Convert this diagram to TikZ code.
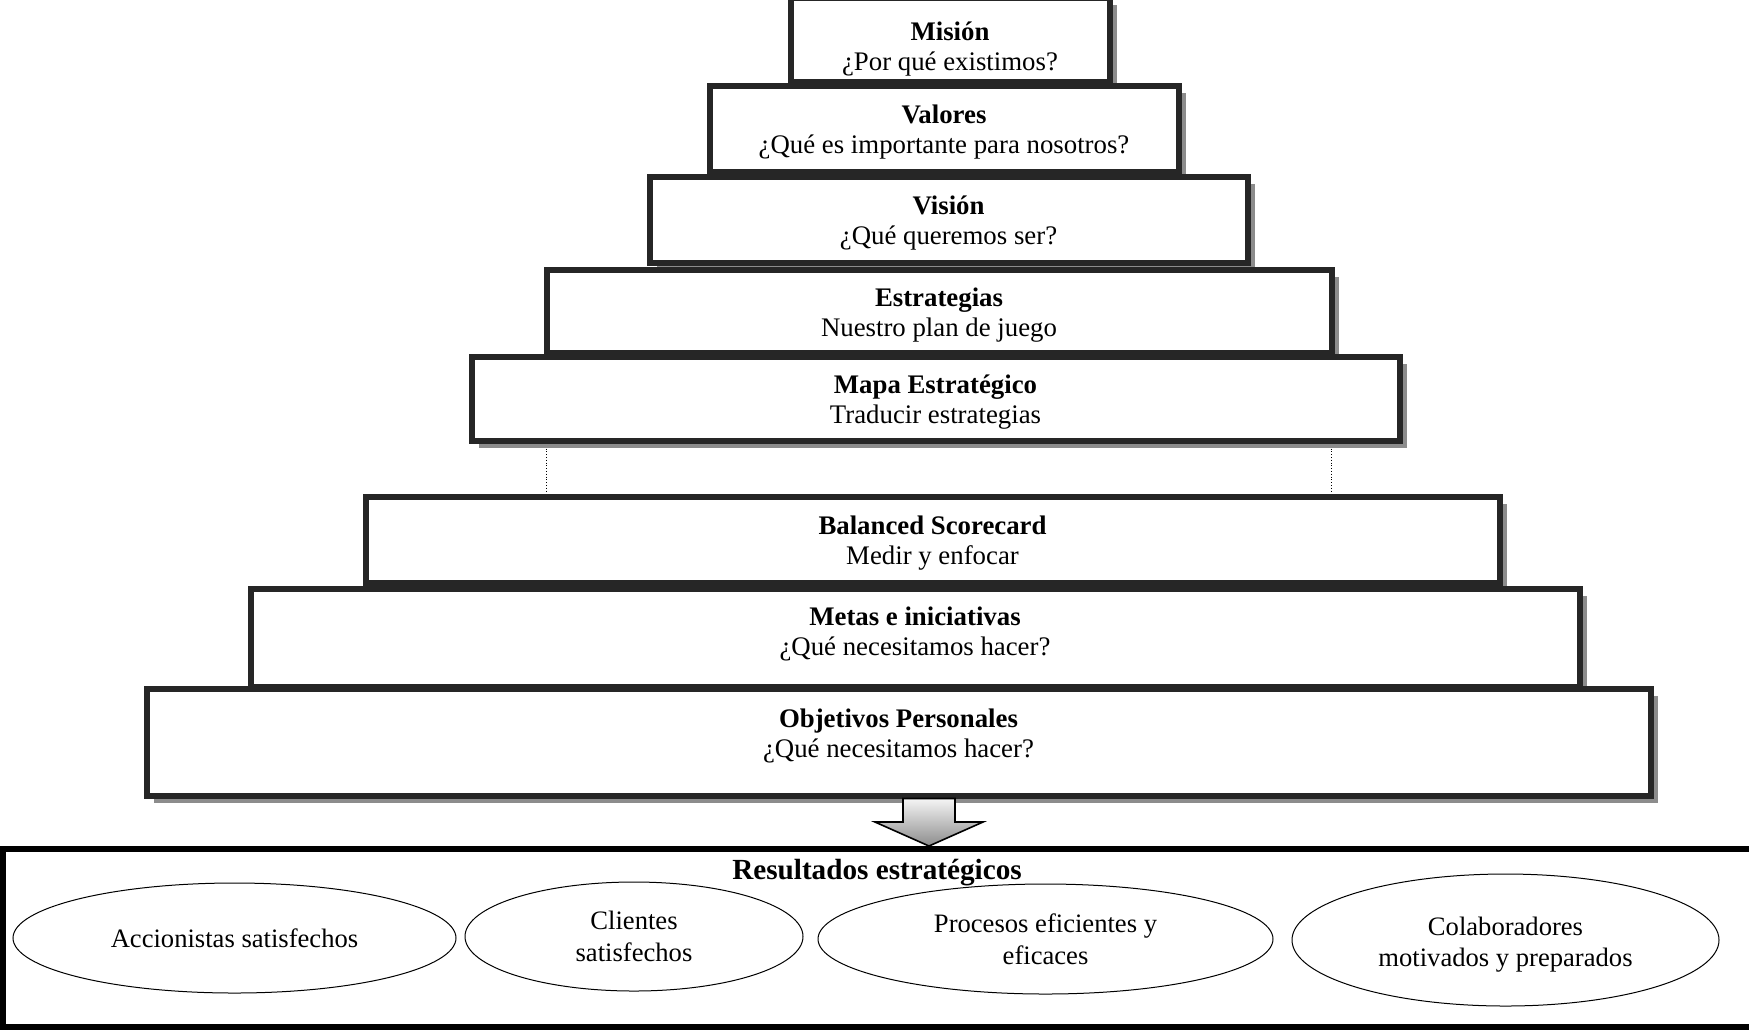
\documentclass[tikz,border=0pt]{standalone}
\usepackage{fontspec}
\setmainfont{Liberation Serif}
\usetikzlibrary{
		calc,
		positioning,
		shapes.geometric,
		shadows
	}
\tikzset{
		>=stealth,
		stepbox/.style={draw=black!85, line width=3pt, fill=white, inner sep=0pt, outer sep=0pt, align=center,
			text height=28pt, text depth=2.6pt, font=\fontsize{13.4}{15}\selectfont,
			drop shadow={shadow xshift=3.5pt, shadow yshift=-3.5pt, fill=black!45, opacity=1}},
		goal/.style={ellipse, draw, line width=0.5pt, inner sep=0pt, align=center, font=\fontsize{13.3}{15.8}\selectfont},
		blockarrow/.style={draw, line width=0.8pt, line join=miter, top color=black!4, bottom color=black!45}
	}

\begin{document}
\begin{tikzpicture}[x=0.5pt, y=-0.5pt]
		\useasboundingbox (0,0) rectangle (1749,1030);
		% piramide
		\node[stepbox, minimum width=159.5pt, minimum height=42pt, text height=33pt] (mision) at (950,40) {\textbf{Misión}\\¿Por qué existimos?};
		\node[stepbox, minimum width=234.5pt, minimum height=43pt] (valores) at (944,128.5) {\textbf{Valores}\\¿Qué es importante para nosotros?};
		\node[stepbox, minimum width=299pt, minimum height=43pt] (vision) at (948.5,219.5) {\textbf{Visión}\\¿Qué queremos ser?};
		\node[stepbox, minimum width=392.5pt, minimum height=41.5pt] (estrategias) at (939,311) {\textbf{Estrategias}\\Nuestro plan de juego};
		\node[stepbox, minimum width=464pt, minimum height=42pt] (mapa) at (935.5,398.5) {\textbf{Mapa Estratégico}\\Traducir estrategias};
		\node[stepbox, minimum width=567pt, minimum height=43pt] (balanced) at (932.5,539.5) {\textbf{Balanced Scorecard}\\Medir y enfocar};
		\draw[densely dotted, thin, shorten <=4pt, shorten >=2pt] (estrategias.west |- mapa.south) -- (estrategias.west |- balanced.north);
		\draw[densely dotted, thin, shorten <=4pt, shorten >=2pt] (estrategias.east |- mapa.south) -- (estrategias.east |- balanced.north);
		\node[stepbox, minimum width=664.5pt, minimum height=49pt, text depth=10.5pt] (metas) at (915,637.5) {\textbf{Metas e iniciativas}\\¿Qué necesitamos hacer?};
		\node[stepbox, minimum width=752pt, minimum height=53.5pt, text depth=12.5pt] (objetivos) at (898.5,742) {\textbf{Objetivos Personales}\\¿Qué necesitamos hacer?};
		% resultados
		\node[draw, line width=3pt, minimum width=874.5pt, minimum height=89pt, inner sep=0pt, outer sep=0pt] (resultados) at (877.5,938) {};
		\coordinate (tip) at (929,846);
		\draw[blockarrow] ($(objetivos.south -| tip)+(-13pt,-1.5pt)$) -- ($(tip)+(-13pt,12pt)$) -- ($(tip)+(-27pt,12pt)$) -- (tip)
			-- ($(tip)+(27pt,12pt)$) -- ($(tip)+(13pt,12pt)$) -- ($(objetivos.south -| tip)+(13pt,-1.5pt)$) -- cycle;
		\node[font=\fontsize{14.6}{17}\selectfont\bfseries] (restit) at (877,872.5) {Resultados estratégicos};
		\node[goal, minimum width=221.5pt, minimum height=55pt] (accionistas) at (234.5,938) {Accionistas satisfechos};
		\node[goal, minimum width=169pt, minimum height=54.5pt] (clientes) at (634,936.5) {Clientes\\satisfechos};
		\node[goal, minimum width=227.5pt, minimum height=55pt] (procesos) at (1045.5,939) {Procesos eficientes y\\eficaces};
		\node[goal, minimum width=213.5pt, minimum height=66pt, text height=29.8pt] (colaboradores) at (1505.5,940) {Colaboradores\\motivados y preparados};
	\end{tikzpicture}
\end{document}
